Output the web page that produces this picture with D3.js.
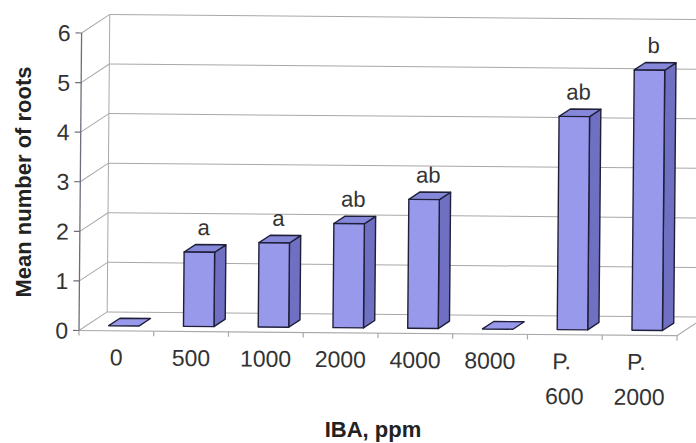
<!DOCTYPE html>
<html>
<head>
<meta charset="utf-8">
<script src="https://cdn.jsdelivr.net/npm/d3@7"></script>
<style>
  html, body { margin: 0; padding: 0; background: #fff; }
  svg { display: block; font-family: "Liberation Sans", Arial, sans-serif; }
</style>
</head>
<body>
<svg id="chart" width="696" height="443"></svg>
<script>
// ---- data ----
const categories = ["0", "500", "1000", "2000", "4000", "8000", "P. 600", "P. 2000"];
const categoryLines = [["0"], ["500"], ["1000"], ["2000"], ["4000"], ["8000"], ["P.", "600"], ["P.", "2000"]];
const meanRoots = [0, 1.5, 1.7, 2.1, 2.6, 0, 4.3, 5.25];
const sigLetters = ["", "a", "a", "ab", "ab", "", "ab", "b"];
const yTicks = [0, 1, 2, 3, 4, 5, 6];
const yTitle = "Mean number of roots";
const xTitle = "IBA, ppm";

// ---- layout ----
const svg = d3.select("#chart");
const X0 = 79, X1 = 677, Y0 = 330.5, Ytop = 33;
const DX = 28, DY = -18.8;          // depth vector of the floor
const barFront = 0.27, barDepth = 0.4, barW = 30.5;

const x = d3.scaleBand().domain(categories).range([X0, X1]).padding(0);
const y = d3.scaleLinear().domain([0, 6]).range([Y0, Ytop]);
const proj = (px, v, d) => [px + d * DX, y(v) + d * DY];

const g = svg.append("g").attr("transform", `rotate(0.5, ${X0}, ${Y0})`);

const gridColor = "#a8a8a8", axisColor = "#6e6e7a";

// back wall gridlines + left wall diagonals
yTicks.forEach(t => {
  const a = proj(X0, t, 0), b = proj(X0, t, 1), c = proj(X1, t, 1);
  g.append("line").attr("x1", b[0]).attr("y1", b[1]).attr("x2", c[0] + 10).attr("y2", c[1])
    .attr("stroke", gridColor).attr("stroke-width", 1);
  g.append("line").attr("x1", a[0]).attr("y1", a[1]).attr("x2", b[0]).attr("y2", b[1])
    .attr("stroke", gridColor).attr("stroke-width", 1);
});
// back wall left vertical edge
{
  const a = proj(X0, 0, 1), b = proj(X0, 6, 1);
  g.append("line").attr("x1", a[0]).attr("y1", a[1]).attr("x2", b[0]).attr("y2", b[1])
    .attr("stroke", gridColor).attr("stroke-width", 1);
}
// floor right diagonal
{
  const a = proj(X1, 0, 0), b = proj(X1, 0, 1);
  g.append("line").attr("x1", a[0]).attr("y1", a[1]).attr("x2", b[0]).attr("y2", b[1])
    .attr("stroke", gridColor).attr("stroke-width", 1);
}
// front x axis
g.append("line").attr("x1", X0).attr("y1", Y0).attr("x2", X1).attr("y2", Y0)
  .attr("stroke", gridColor).attr("stroke-width", 1.2);
const bounds = categories.map(c => x(c)).concat([X1]);
bounds.forEach(bx => {
  g.append("line").attr("x1", bx).attr("y1", Y0).attr("x2", bx).attr("y2", Y0 + 5)
    .attr("stroke", gridColor).attr("stroke-width", 1.2);
});

// front y axis
g.append("line").attr("x1", X0).attr("y1", y(0)).attr("x2", X0).attr("y2", y(6))
  .attr("stroke", axisColor).attr("stroke-width", 1.3);
yTicks.forEach(t => {
  g.append("line").attr("x1", X0 - 6).attr("y1", y(t)).attr("x2", X0).attr("y2", y(t))
    .attr("stroke", axisColor).attr("stroke-width", 1.2);
  g.append("text").attr("x", X0 - 11).attr("y", y(t)).attr("dy", "0.36em")
    .attr("text-anchor", "end").attr("font-size", 23).attr("fill", "#333").text(t);
});

// x tick labels
categories.forEach((c, i) => {
  const cx = x(c) + x.bandwidth() / 2;
  categoryLines[i].forEach((ln, j) => {
    g.append("text").attr("x", cx + (ln === "P." ? -3 : 0)).attr("y", 365 + j * 35)
      .attr("text-anchor", "middle").attr("font-size", 23).attr("fill", "#333").text(ln);
  });
});

// bars
const fFront = "#9899ea", fTop = "#8587d8", fSide = "#6f70c2", edge = "#1f1f3a";
categories.forEach((c, i) => {
  const v = meanRoots[i];
  const cx = x(c) + x.bandwidth() / 2;
  const L = cx - barW / 2, R = cx + barW / 2;
  const d0 = barFront, d1 = barFront + barDepth;
  const pts = (arr) => arr.map(p => p.join(",")).join(" ");
  const bar = g.append("g").attr("stroke", edge).attr("stroke-width", 1.4).attr("stroke-linejoin", "round");
  if (v > 0) {
    bar.append("polygon").attr("fill", fSide)
      .attr("points", pts([proj(R, 0, d0), proj(R, 0, d1), proj(R, v, d1), proj(R, v, d0)]));
  }
  bar.append("polygon").attr("fill", v > 0 ? fTop : fFront)
    .attr("points", pts([proj(L, v, d0), proj(R, v, d0), proj(R, v, d1), proj(L, v, d1)]));
  if (v > 0) {
    bar.append("polygon").attr("fill", fFront)
      .attr("points", pts([proj(L, 0, d0), proj(R, 0, d0), proj(R, v, d0), proj(L, v, d0)]));
  }
  if (sigLetters[i]) {
    const p = proj(cx, v, d0);
    g.append("text").attr("x", p[0] + 4).attr("y", p[1] - 17)
      .attr("text-anchor", "middle").attr("font-size", 22).attr("fill", "#333").text(sigLetters[i]);
  }
});

// titles
svg.append("text").attr("x", 373).attr("y", 437).attr("text-anchor", "middle")
  .attr("font-size", 22).attr("font-weight", "bold").attr("fill", "#222").text(xTitle);
svg.append("text").attr("transform", "translate(31,182) rotate(-90)").attr("text-anchor", "middle")
  .attr("font-size", 22).attr("font-weight", "bold").attr("fill", "#222").text(yTitle);
</script>
</body>
</html>
